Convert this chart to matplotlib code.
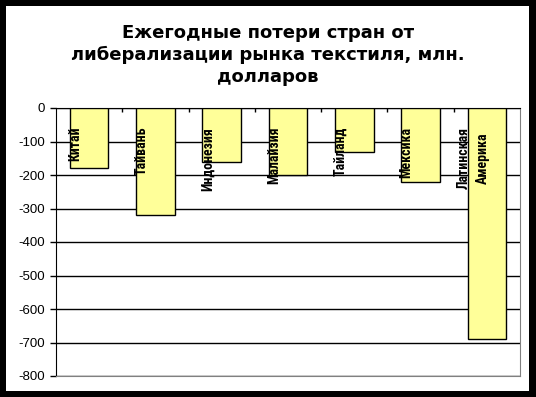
import matplotlib.pyplot as plt
from matplotlib.patches import Rectangle
from matplotlib import font_manager

countries = ['Китай', 'Тайвань', 'Индонезия', 'Малайзия', 'Тайланд', 'Мексика', 'Латинская\nАмерика']
losses = [-180, -320, -160, -200, -130, -220, -690]
yticks = [0, -100, -200, -300, -400, -500, -600, -700, -800]


def first_font(names):
    for n in names:
        try:
            font_manager.findfont(font_manager.FontProperties(family=n), fallback_to_default=False)
            return n
        except Exception:
            pass
    return 'DejaVu Sans'


narrow = first_font(['Liberation Sans Narrow', 'DejaVu Sans Condensed', 'Roboto Condensed', 'Roboto'])

W, H = 536, 397
fig = plt.figure(figsize=(W / 100, H / 100), dpi=100)
fig.patch.set_facecolor('black')
fig.add_artist(Rectangle((6 / W, 1 - 391 / H), 523 / W, 385 / H,
                         transform=fig.transFigure, facecolor='white',
                         edgecolor='none', zorder=0))

ax = fig.add_axes([56 / W, 1 - 376 / H, 464 / W, 268 / H])
ax.set_facecolor('white')
x = range(len(countries))
ax.bar(x, losses, width=0.58, color='#FFFF99', edgecolor='black', linewidth=1, zorder=3)

ax.set_ylim(-800, 0)
ax.set_xlim(-0.5, len(countries) - 0.5)
ax.set_yticks(yticks)
ax.set_yticklabels([str(v) for v in yticks], fontsize=9.5, family=['Liberation Sans', 'DejaVu Sans'])
ax.yaxis.grid(True, color='black', linewidth=1, zorder=1)
ax.set_axisbelow(True)
ax.tick_params(axis='y', length=4, width=1, pad=4)

# category separators on the zero line
ax.set_xticks([i + 0.5 for i in range(len(countries) - 1)])
ax.set_xticklabels([])
ax.xaxis.tick_top()
ax.tick_params(axis='x', direction='in', length=3, width=1)

ax.spines['left'].set_color('black')
ax.spines['top'].set_color('black')
ax.spines['right'].set_color('#808080')
ax.spines['bottom'].set_color('#808080')

for i, name in enumerate(countries):
    ax.text(i - 0.21, -56, name, rotation=90, ha='center', va='top',
            fontsize=10, fontweight='semibold', family=[narrow, 'DejaVu Sans'],
            linespacing=1.45, zorder=4)

fig.text(0.5, 1 - 55 / H,
         'Ежегодные потери стран от\nлиберализации рынка текстиля, млн.\nдолларов',
         ha='center', va='center', fontsize=13, fontweight='bold',
         family=['DejaVu Sans'], linespacing=1.3)

fig.savefig('out.png', dpi=100, facecolor=fig.get_facecolor())
